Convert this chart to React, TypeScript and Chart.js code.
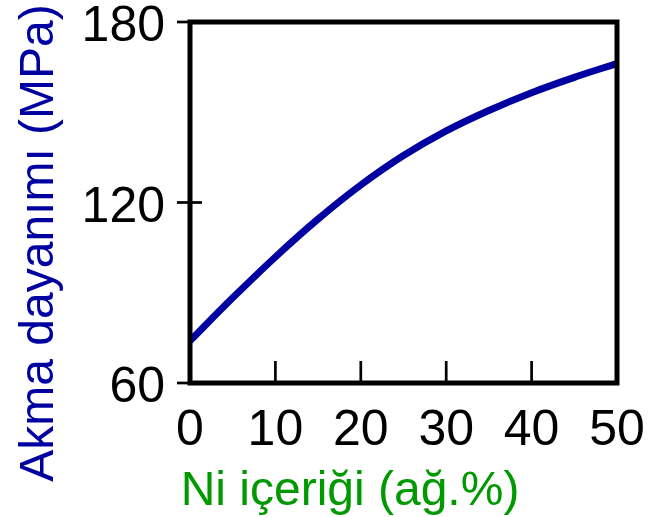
import React, { useEffect, useRef } from "react";
import { Chart, registerables } from "chart.js";

Chart.register(...registerables);

const NI_CONTENT = [0, 5, 10, 15, 20, 25, 30, 35, 40, 45, 50];
const YIELD_STRENGTH = [74, 88.3, 101.9, 114.5, 125.8, 135.6, 143.8, 150.6, 156.5, 161.6, 166.2];
const X_TICKS = [0, 10, 20, 30, 40, 50];
const Y_TICKS = [60, 120, 180];
const X_TITLE = "Ni içeriği (ağ.%)";
const Y_TITLE = "Akma dayanımı (MPa)";

const FONT = "Liberation Sans, Arial, sans-serif";

const axesPlugin = {
  id: "customAxes",
  afterDraw(chart: any) {
    const { ctx, chartArea } = chart;
    const xs = chart.scales.x;
    const ys = chart.scales.y;
    const { left, right, top, bottom } = chartArea;
    ctx.save();
    // frame
    ctx.strokeStyle = "#000";
    ctx.lineWidth = 5;
    ctx.strokeRect(left, top, right - left, bottom - top);
    // y ticks
    ctx.lineWidth = 2.7;
    for (const v of Y_TICKS) {
      const y = ys.getPixelForValue(v);
      ctx.beginPath();
      ctx.moveTo(left - 13, y);
      ctx.lineTo(left + 12, y);
      ctx.stroke();
    }
    // x ticks (inward)
    for (const v of X_TICKS) {
      if (v === X_TICKS[0] || v === X_TICKS[X_TICKS.length - 1]) continue;
      const x = xs.getPixelForValue(v);
      ctx.beginPath();
      ctx.moveTo(x, bottom);
      ctx.lineTo(x, bottom - 22);
      ctx.stroke();
    }
    // tick labels
    ctx.fillStyle = "#000";
    ctx.font = `50px ${FONT}`;
    ctx.textAlign = "right";
    ctx.textBaseline = "alphabetic";
    for (const v of Y_TICKS) {
      const y = ys.getPixelForValue(v);
      ctx.fillText(String(v), left - 25, y + 19);
    }
    ctx.textAlign = "center";
    for (const v of X_TICKS) {
      const x = xs.getPixelForValue(v);
      ctx.fillText(String(v), x, bottom + 62);
    }
    // x title
    ctx.fillStyle = "#009900";
    ctx.font = `48px ${FONT}`;
    ctx.textAlign = "center";
    ctx.fillText(X_TITLE, 350, 505);
    // y title
    ctx.save();
    ctx.translate(53, 243);
    ctx.rotate(-Math.PI / 2);
    ctx.fillStyle = "#0000A0";
    ctx.textAlign = "center";
    ctx.textBaseline = "alphabetic";
    ctx.fillText(Y_TITLE, 0, 0);
    ctx.restore();
    ctx.restore();
  },
};

export default function App() {
  const ref = useRef<HTMLCanvasElement>(null);
  useEffect(() => {
    document.body.style.margin = "0";
    const chart = new Chart(ref.current!, {
      type: "line",
      data: {
        datasets: [
          {
            data: NI_CONTENT.map((x, i) => ({ x, y: YIELD_STRENGTH[i] })),
            borderColor: "#0000A0",
            borderWidth: 7,
            pointRadius: 0,
            tension: 0.4,
            fill: false,
          },
        ],
      },
      options: {
        animation: false,
        responsive: false,
        maintainAspectRatio: false,
        layout: { padding: { left: 190, top: 22, right: 37, bottom: 134 } },
        plugins: { legend: { display: false }, tooltip: { enabled: false } },
        scales: {
          x: { type: "linear", min: 0, max: 50, display: false },
          y: { type: "linear", min: 60, max: 180, display: false },
        },
      },
      plugins: [axesPlugin],
    });
    return () => chart.destroy();
  }, []);
  return (
    <div style={{ position: "absolute", left: 0, top: 0, width: 654, height: 517, background: "#fff" }}>
      <canvas ref={ref} width={654} height={517} style={{ width: 654, height: 517 }} />
    </div>
  );
}
